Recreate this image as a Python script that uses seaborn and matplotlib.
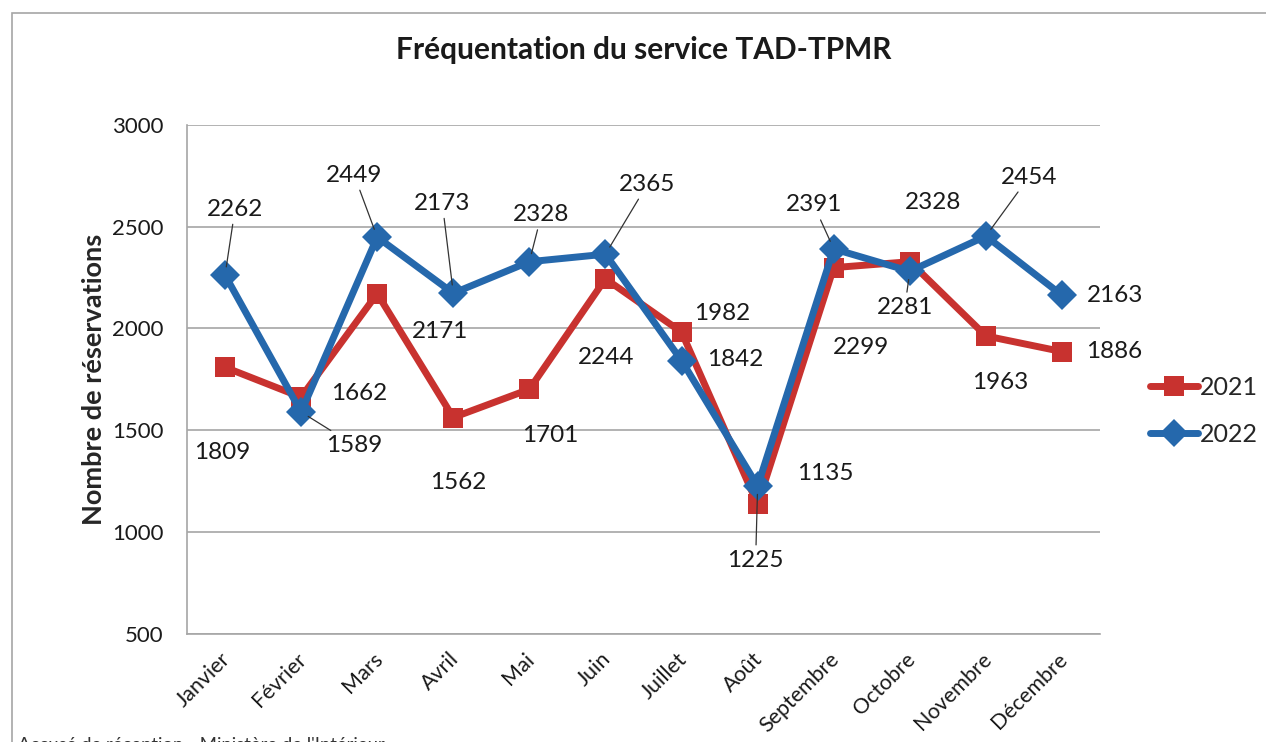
import seaborn as sns
import matplotlib.pyplot as plt
import pandas as pd
from matplotlib.lines import Line2D
from matplotlib.patches import Rectangle
from matplotlib.transforms import ScaledTranslation

mois = ['Janvier', 'Février', 'Mars', 'Avril', 'Mai', 'Juin', 'Juillet',
        'Août', 'Septembre', 'Octobre', 'Novembre', 'Décembre']
val_2021 = [1809, 1662, 2171, 1562, 1701, 2244, 1982, 1135, 2299, 2328, 1963, 1886]
val_2022 = [2262, 1589, 2449, 2173, 2328, 2365, 1842, 1225, 2391, 2281, 2454, 2163]

# label offsets in pixels (dx right, dy down) and whether a leader line is drawn
off_2021 = [(-3, 85), (58, -4), (63, 38), (5, 65), (21, 46), (1, 79),
            (41, -19), (68, -31), (27, 80), (23, -59), (14, 47), (52, 0)]
off_2022 = [(10, -66), (53, 33), (-23, -62), (-11, -90), (12, -47), (42, -70),
            (54, -1), (-2, 74), (-20, -44), (-5, 36), (43, -59), (53, 0)]
lead_2022 = [True, True, True, True, True, True, False, True, True, True, True, False]

rouge = '#C8322F'
bleu = '#2568AC'

df = pd.DataFrame({
    'mois': mois * 2,
    'reservations': val_2021 + val_2022,
    'annee': ['2021'] * 12 + ['2022'] * 12,
})

sns.set_style('white')
plt.rcParams['font.family'] = ['Lato', 'DejaVu Sans']

fig = plt.figure(figsize=(12.66, 7.42), dpi=100)
ax = fig.add_axes([0.1477, 0.1462, 0.7212, 0.6853])

sns.lineplot(data=df, x='mois', y='reservations', hue='annee', style='annee',
             palette={'2021': rouge, '2022': bleu},
             markers={'2021': 's', '2022': 'D'}, dashes=False,
             linewidth=5, markersize=15, markeredgewidth=0,
             legend=False, ax=ax, sort=False)

ax.set_xlim(-0.5, 11.5)
ax.set_ylim(500, 3000)
ax.set_yticks([500, 1000, 1500, 2000, 2500, 3000])
ax.yaxis.grid(True, color='#a6a6a6', linewidth=1.2)
ax.set_axisbelow(True)
for s in ['top', 'right']:
    ax.spines[s].set_visible(False)
for s in ['left', 'bottom']:
    ax.spines[s].set_color('#a6a6a6')
    ax.spines[s].set_linewidth(1.2)
ax.tick_params(axis='both', length=0)
ax.tick_params(axis='y', labelsize=16, pad=17, labelcolor='#1a1a1a')
ax.tick_params(axis='x', labelsize=15.5, pad=11, labelcolor='#1a1a1a')
decal = ScaledTranslation(-0.05, 0, fig.dpi_scale_trans)
for lab in ax.get_xticklabels():
    lab.set_rotation(45)
    lab.set_ha('right')
    lab.set_rotation_mode('anchor')
    lab.set_transform(lab.get_transform() + decal)
ax.set_xlabel('')
ax.set_ylabel('Nombre de réservations', fontsize=19.5, fontweight='bold', labelpad=4)

for i in range(len(mois)):
    dx, dy = off_2021[i]
    ax.annotate(str(val_2021[i]), xy=(i, val_2021[i]), xytext=(dx, -dy),
                textcoords='offset pixels', ha='center', va='center',
                fontsize=17.5, color='#1a1a1a')
    dx, dy = off_2022[i]
    arrow = None
    if lead_2022[i]:
        arrow = dict(arrowstyle='-', color='#333333', lw=0.9, shrinkA=1, shrinkB=6)
    ax.annotate(str(val_2022[i]), xy=(i, val_2022[i]), xytext=(dx, -dy),
                textcoords='offset pixels', ha='center', va='center',
                fontsize=17.5, color='#1a1a1a', arrowprops=arrow)

handles = [Line2D([], [], color=rouge, lw=5, marker='s', markersize=15, mew=0),
           Line2D([], [], color=bleu, lw=5, marker='D', markersize=14, mew=0)]
fig.legend(handles, ['2021', '2022'], loc='center left',
           bbox_to_anchor=(1150 / 1266, 1 - 411 / 742), frameon=False,
           borderpad=0, borderaxespad=0,
           fontsize=18, handlelength=1.9, handletextpad=0.1, labelspacing=0.95)

fig.text(644 / 1266, 1 - 50 / 742, 'Fréquentation du service TAD-TPMR', ha='center',
         va='center', fontsize=21.5, fontweight='bold', color='#1a1a1a')

fig.add_artist(Rectangle((12 / 1266, -0.1), 1.2, 1.1 - 12.5 / 742,
                         transform=fig.transFigure, fill=False,
                         edgecolor='#a6a6a6', linewidth=1.2))
fig.text(18 / 1266, -0.004, "Accusé de réception - Ministère de l'Intérieur",
         ha='left', va='center', fontsize=13.3, color='#333333')

fig.savefig('out.png', dpi=100)
